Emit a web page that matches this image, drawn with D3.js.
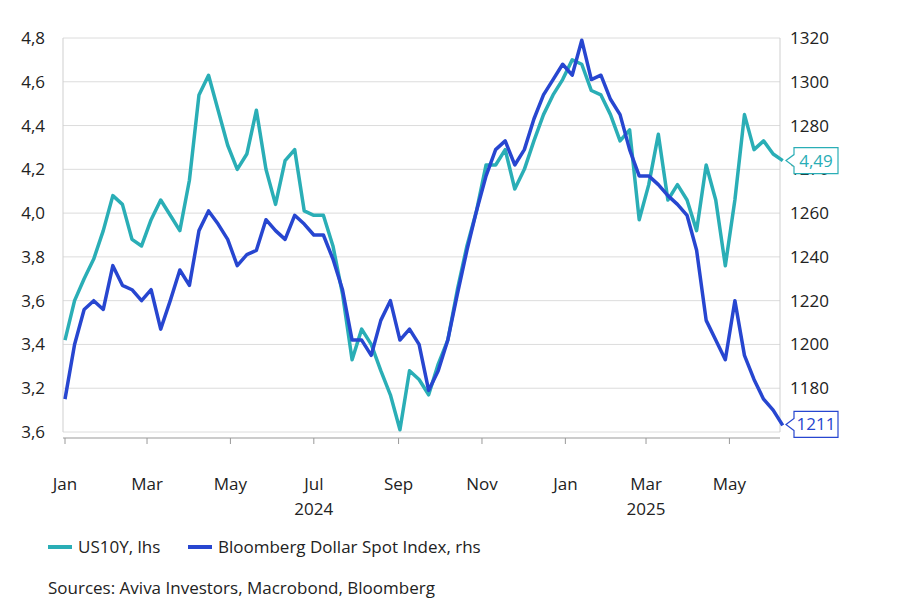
<!DOCTYPE html>
<html>
<head>
<meta charset="utf-8">
<script src="https://cdn.jsdelivr.net/npm/d3@7"></script>
<style>
  body { margin: 0; background: #fff; }
  text { font-family: "Open Sans", "Noto Sans", sans-serif; }
</style>
</head>
<body>
<svg id="chart" width="917" height="610"></svg>
<script>
// weekly observations starting at first week of Jan 2024
const startDate = "2024-01-01";
const us10y = [3.42,3.60,3.70,3.79,3.92,4.08,4.04,3.88,3.85,3.97,4.06,3.99,3.92,4.15,4.54,4.63,
  4.47,4.31,4.20,4.27,4.47,4.20,4.04,4.24,4.29,4.01,3.99,3.99,3.85,3.63,3.33,3.47,3.40,3.28,3.17,
  3.01,3.28,3.24,3.17,3.31,3.42,3.65,3.85,4.01,4.22,4.22,4.29,4.11,4.20,4.33,4.45,4.54,4.61,4.70,
  4.68,4.56,4.54,4.45,4.33,4.38,3.97,4.13,4.36,4.06,4.13,4.06,3.92,4.22,4.06,3.76,4.06,4.45,4.29,
  4.33,4.27,4.24];
const dollar = [1155,1180,1196,1200,1196,1216,1207,1205,1200,1205,1187,1200,1214,1207,1232,1241,
  1235,1228,1216,1221,1223,1237,1232,1228,1239,1235,1230,1230,1219,1205,1182,1182,1175,1191,1200,
  1182,1187,1180,1159,1168,1182,1203,1223,1241,1257,1269,1273,1262,1269,1283,1294,1301,1308,1303,
  1319,1301,1303,1292,1285,1269,1257,1257,1253,1248,1244,1239,1223,1191,1182,1173,1200,1175,1164,
  1155,1150,1143];
const leftTicks  = ["4,8","4,6","4,4","4,2","4,0","3,8","3,6","3,4","3,2","3,6"];
const rightTicks = ["1320","1300","1280","1270","1260","1240","1220","1200","1180","1160"];
const monthTicks = ["2024-01-01","2024-03-01","2024-05-01","2024-07-01","2024-09-01","2024-11-01",
  "2025-01-01","2025-03-01","2025-05-01"];
const monthLabels = ["Jan","Mar","May","Jul","Sep","Nov","Jan","Mar","May"];
const years = [{label:"2024", date:"2024-07-01"}, {label:"2025", date:"2025-03-01"}];
const lastLabels = ["4,49", "1211"];

const teal = "#2aaeb6", blue = "#2746d0";
const svg = d3.select("#chart");
const m = {l: 63, r: 780, t: 38, b: 432};
const parse = d3.timeParse("%Y-%m-%d");
const t0 = parse(startDate);
const dates = us10y.map((_, i) => d3.timeDay.offset(t0, i * 7));

const x = d3.scaleTime().domain([t0, d3.timeDay.offset(t0, 523)]).range([m.l + 2, m.r]);
const yL = d3.scaleLinear().domain([3.0, 4.8]).range([m.b, m.t]);
const yR = d3.scaleLinear().domain([1140, 1320]).range([m.b, m.t]);
const tickPos = d3.scalePoint().domain(leftTicks.map((_, i) => i)).range([m.t, m.b]);

// grid
svg.append("g").selectAll("line").data(leftTicks).join("line")
  .attr("x1", m.l).attr("x2", m.r)
  .attr("y1", (d, i) => tickPos(i)).attr("y2", (d, i) => tickPos(i))
  .attr("stroke", "#dcdcdc");
svg.append("line").attr("x1", m.l).attr("x2", m.l).attr("y1", m.t).attr("y2", m.b).attr("stroke", "#cfcfcf");
svg.append("line").attr("x1", m.r).attr("x2", m.r).attr("y1", m.t).attr("y2", m.b).attr("stroke", "#cfcfcf");

svg.append("g").selectAll("text").data(leftTicks).join("text")
  .attr("x", 45).attr("y", (d, i) => tickPos(i)).attr("dy", "0.35em")
  .attr("text-anchor", "end").attr("font-size", 17).attr("fill", "#222").text(d => d);
svg.append("g").selectAll("text").data(rightTicks).join("text")
  .attr("x", 790).attr("y", (d, i) => tickPos(i)).attr("dy", "0.35em")
  .attr("font-size", 17).attr("fill", "#222").text(d => d);

// x axis
svg.append("line").attr("x1", m.l).attr("x2", m.r).attr("y1", m.b + 6).attr("y2", m.b + 6).attr("stroke", "#999");
const xg = svg.append("g");
xg.selectAll("line").data(monthTicks).join("line")
  .attr("x1", d => x(parse(d))).attr("x2", d => x(parse(d)))
  .attr("y1", m.b + 6).attr("y2", m.b + 12).attr("stroke", "#999");
xg.selectAll("text").data(monthTicks).join("text")
  .attr("x", d => x(parse(d))).attr("y", 490).attr("text-anchor", "middle")
  .attr("font-size", 17).attr("fill", "#222").text((d, i) => monthLabels[i]);
xg.selectAll("text.yr").data(years).join("text").attr("class", "yr")
  .attr("x", d => x(parse(d.date))).attr("y", 515).attr("text-anchor", "middle")
  .attr("font-size", 17).attr("fill", "#222").text(d => d.label);

// lines
const lineL = d3.line().x((d, i) => x(dates[i])).y(d => yL(d)).curve(d3.curveLinear);
const lineR = d3.line().x((d, i) => x(dates[i])).y(d => yR(d)).curve(d3.curveLinear);
svg.append("path").datum(us10y).attr("d", lineL).attr("fill", "none")
  .attr("stroke", teal).attr("stroke-width", 3.5).attr("stroke-linejoin", "round");
svg.append("path").datum(dollar).attr("d", lineR).attr("fill", "none")
  .attr("stroke", blue).attr("stroke-width", 3.5).attr("stroke-linejoin", "round");

// end labels
function endLabel(yv, txt, col) {
  const g = svg.append("g").attr("transform", `translate(${m.r + 6},${yv})`);
  g.append("path").attr("d", "M0,0 L8,-6 L8,-13 L52,-13 L52,13 L8,13 L8,6 Z")
    .attr("fill", "#fff").attr("stroke", col).attr("stroke-width", 1.2);
  g.append("text").attr("x", 30).attr("dy", "0.35em").attr("text-anchor", "middle")
    .attr("font-size", 17).attr("fill", col).text(txt);
}
endLabel(yL(us10y[us10y.length - 1]), lastLabels[0], teal);
endLabel(yR(dollar[dollar.length - 1]) - 1, lastLabels[1], blue);

// legend
const legend = [{name: "US10Y, lhs", col: teal, x: 48}, {name: "Bloomberg Dollar Spot Index, rhs", col: blue, x: 188}];
const lg = svg.append("g").selectAll("g").data(legend).join("g")
  .attr("transform", d => `translate(${d.x},547)`);
lg.append("line").attr("x1", 0).attr("x2", 24).attr("stroke", d => d.col).attr("stroke-width", 4);
lg.append("text").attr("x", 30).attr("dy", "0.35em").attr("font-size", 17).attr("fill", "#222").text(d => d.name);

svg.append("text").attr("x", 48).attr("y", 594).attr("font-size", 17).attr("fill", "#222")
  .text("Sources: Aviva Investors, Macrobond, Bloomberg");
</script>
</body>
</html>
